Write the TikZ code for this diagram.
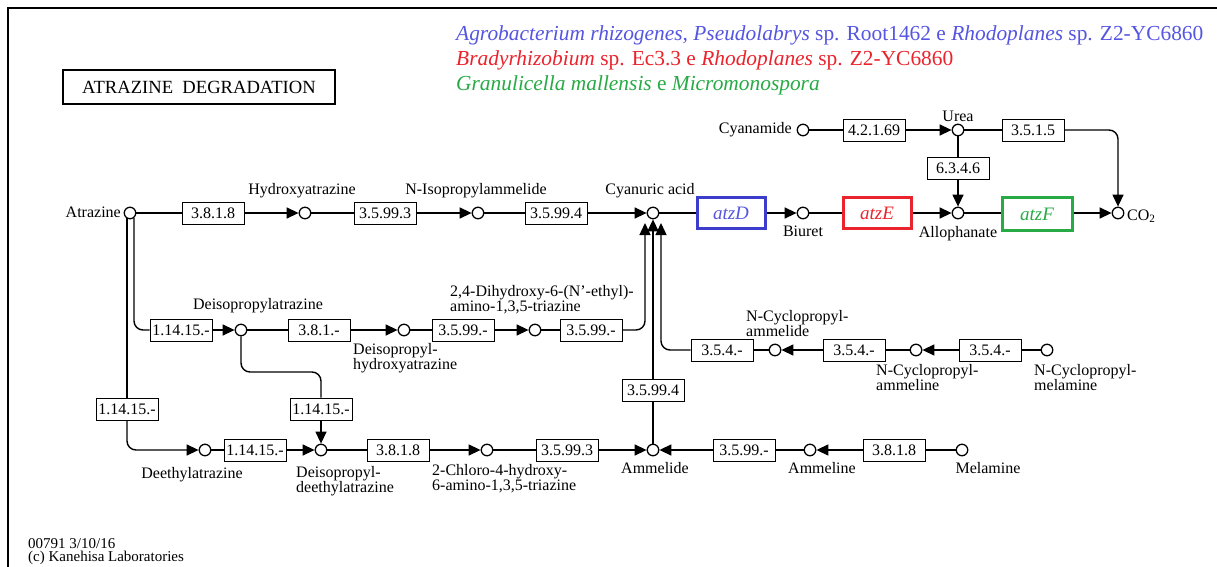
\documentclass[tikz,border=0pt]{standalone}
\usepackage{fontspec}
\setmainfont{Liberation Serif}
\usetikzlibrary{arrows.meta,calc}
\definecolor{legblue}{RGB}{85,85,225}
\definecolor{legred}{RGB}{235,35,45}
\definecolor{leggreen}{RGB}{40,170,70}
\definecolor{genblue}{RGB}{60,60,205}
\begin{document}
\begin{tikzpicture}[x=1pt,y=-1pt,
  cpd/.style={circle,draw,line width=1.3pt,minimum size=11.5pt,inner sep=0pt,fill=white},
  ec/.style={draw,line width=0.9pt,minimum width=62pt,minimum height=22pt,inner sep=1pt,fill=white,font=\fontsize{16}{16}\selectfont},
  gene/.style={draw,line width=3pt,minimum height=31pt,inner sep=1pt,fill=white,font=\fontsize{19}{19}\selectfont\itshape},
  lbl/.style={inner sep=0pt,font=\fontsize{16}{14}\selectfont},
  conn/.style={line width=1.4pt},
  arr/.style={line width=1.4pt,-{Triangle[length=12pt,width=11pt]}},
  leg/.style={inner sep=0pt,anchor=base west,font=\fontsize{21.4}{21.4}\selectfont}]
\useasboundingbox (0,0) rectangle (1217,567);
\fill[white] (0,0) rectangle (1217,567);
% frame
\draw[line width=1.5pt] (8,567) -- (8,8) -- (1217,8);
% title
\node[draw,line width=2pt,minimum width=272pt,minimum height=34pt,inner sep=0pt,font=\fontsize{18.6}{18.6}\selectfont] (title) at (199,87) {ATRAZINE\ \ DEGRADATION};
% legend
\node[leg,text=legblue] (leg1) at (456,41) {\textit{Agrobacterium rhizogenes, Pseudolabrys} sp. Root1462 e \textit{Rhodoplanes} sp. Z2-YC6860};
\node[leg,text=legred] (leg2) at (456,66) {\textit{Bradyrhizobium} sp. Ec3.3 e \textit{Rhodoplanes} sp. Z2-YC6860};
\node[leg,text=leggreen] (leg3) at (456,91) {\textit{Granulicella mallensis} e \textit{Micromonospora}};
% footer
\node[inner sep=0pt,anchor=north west,align=left,font=\fontsize{15}{13}\selectfont] (foot) at (28,538) {00791 3/10/16\\(c) Kanehisa Laboratories};

% ---------- row 1 ----------
\node[cpd] (atr) at (130,213) {};
\node[lbl,anchor=east] (latr) at (121,212) {Atrazine};
\node[ec] (ec1) at (213,213) {3.8.1.8};
\node[cpd] (hyd) at (305,213) {};
\node[lbl,anchor=south] (lhyd) at (302,198) {Hydroxyatrazine};
\node[ec] (ec2) at (385,213) {3.5.99.3};
\node[cpd] (nip) at (478,213) {};
\node[lbl,anchor=south] (lnip) at (476,198) {N-Isopropylammelide};
\node[ec] (ec3) at (556,213) {3.5.99.4};
\node[cpd] (cya) at (653,213) {};
\node[lbl,anchor=south] (lcya) at (650,198) {Cyanuric acid};
\node[gene,draw=genblue,text=legblue,minimum width=68pt] (atzD) at (731,213) {atzD};
\node[cpd] (biu) at (803,213) {};
\node[lbl,anchor=north] (lbiu) at (803,226) {Biuret};
\node[gene,draw=legred,text=legred,minimum width=68pt] (atzE) at (877,213) {atzE};
\node[cpd] (all) at (958,213) {};
\node[lbl,anchor=north] (lall) at (958,226) {Allophanate};
\node[gene,draw=leggreen,text=leggreen,minimum width=70pt,minimum height=33pt] (atzF) at (1037,214) {atzF};
\node[cpd] (co2) at (1118,213) {};
\node[lbl,anchor=west] (lco2) at (1127,216) {CO\textsubscript{2}};
\node[cpd] (cyn) at (803,130) {};
\node[lbl,anchor=east] (lcyn) at (792,130) {Cyanamide};
\node[ec] (ec4) at (874,130) {4.2.1.69};
\node[cpd] (urea) at (958,130) {};
\node[lbl,anchor=south] (lurea) at (958,122) {Urea};
\node[ec] (ec5) at (1033,130) {3.5.1.5};
\node[ec] (ec6) at (958,168) {6.3.4.6};

\draw[conn] (atr) -- (ec1);
\draw[arr] (ec1) -- (hyd);
\draw[conn] (hyd) -- (ec2);
\draw[arr] (ec2) -- (nip);
\draw[conn] (nip) -- (ec3);
\draw[arr] (ec3) -- (cya);
\draw[conn] (cya) -- (atzD);
\draw[arr] (atzD) -- (biu);
\draw[conn] (biu) -- (atzE);
\draw[arr] (atzE) -- (all);
\draw[conn] (all) -- (all -| atzF.west);
\draw[arr] (atzF.east |- co2) -- (co2);
\draw[conn] (cyn) -- (ec4);
\draw[arr] (ec4) -- (urea);
\draw[conn] (urea) -- (ec6);
\draw[arr] (ec6) -- (all);
\draw[conn] (urea) -- (ec5);
\draw[arr,rounded corners=9pt] (ec5) -- (co2 |- ec5) -- (co2);

% ---------- row 2 left ----------
\coordinate (atL) at (127,218);
\coordinate (atR) at (134,218);
\node[ec] (ec7) at (181,330) {1.14.15.-};
\node[cpd] (dia) at (241,330) {};
\node[lbl,anchor=south] (ldia) at (258,313) {Deisopropylatrazine};
\node[ec] (ec8) at (319,330) {3.8.1.-};
\node[cpd] (dih) at (404,330) {};
\node[lbl,anchor=north west,align=left] (ldih) at (353,343) {Deisopropyl-\\hydroxyatrazine};
\node[ec] (ec9) at (463,330) {3.5.99.-};
\node[cpd] (dhe) at (535,330) {};
\node[lbl,anchor=south west,align=left] (ldhe) at (450,314) {2,4-Dihydroxy-6-(N'-ethyl)-\\amino-1,3,5-triazine};
\node[ec] (ec10) at (591,330) {3.5.99.-};
\coordinate (ca1) at (645,223);
\coordinate (ca3) at (661,223);

\draw[conn,rounded corners=9pt] (atR) -- (atR |- ec7) -- (ec7);
\draw[arr] (ec7) -- (dia);
\draw[conn] (dia) -- (ec8);
\draw[arr] (ec8) -- (dih);
\draw[conn] (dih) -- (ec9);
\draw[arr] (ec9) -- (dhe);
\draw[conn] (dhe) -- (ec10);
\draw[arr,rounded corners=9pt] (ec10) -- (ca1 |- ec10) -- (ca1);

% ---------- row 2 right ----------
\node[ec] (ec19) at (722,350) {3.5.4.-};
\node[cpd] (cam) at (775,350) {};
\node[lbl,anchor=south west,align=left] (lcam) at (746,337) {N-Cyclopropyl-\\ammelide};
\node[ec] (ec20) at (854,350) {3.5.4.-};
\node[cpd] (cmn) at (916,350) {};
\node[lbl,anchor=north west,align=left] (lcmn) at (876,364) {N-Cyclopropyl-\\ammeline};
\node[ec] (ec21) at (990,350) {3.5.4.-};
\node[cpd] (cml) at (1047,350) {};
\node[lbl,anchor=north west,align=left] (lcml) at (1034,364) {N-Cyclopropyl-\\melamine};

\draw[conn] (cml) -- (ec21);
\draw[arr] (ec21) -- (cmn);
\draw[conn] (cmn) -- (ec20);
\draw[arr] (ec20) -- (cam);
\draw[conn] (cam) -- (ec19);
\draw[arr,rounded corners=9pt] (ec19) -- (ca3 |- ec19) -- (ca3);

% ---------- row 3 ----------
\node[ec] (ec11) at (127,409) {1.14.15.-};
\node[cpd] (det) at (205,450) {};
\node[lbl,anchor=north] (ldet) at (192,467) {Deethylatrazine};
\node[ec] (ec12) at (255,450) {1.14.15.-};
\node[cpd] (ddd) at (321,450) {};
\node[lbl,anchor=north west,align=left] (lddd) at (296,466) {Deisopropyl-\\deethylatrazine};
\node[ec] (ec13) at (321,409) {1.14.15.-};
\coordinate (k1) at (241,372);
\coordinate (k2) at (321,372);
\node[ec] (ec14) at (398,450) {3.8.1.8};
\node[cpd] (ccc) at (487,450) {};
\node[lbl,anchor=north west,align=left] (lccc) at (432,464) {2-Chloro-4-hydroxy-\\6-amino-1,3,5-triazine};
\node[ec] (ec15) at (567,450) {3.5.99.3};
\node[cpd] (amd) at (653,450) {};
\node[lbl,anchor=north] (lamd) at (655,462) {Ammelide};
\node[ec] (ec16) at (653,390) {3.5.99.4};
\node[ec] (ec17) at (744,450) {3.5.99.-};
\node[cpd] (aml) at (810,450) {};
\node[lbl,anchor=north] (laml) at (822,462) {Ammeline};
\node[ec] (ec18) at (894,450) {3.8.1.8};
\node[cpd] (mel) at (962,450) {};
\node[lbl,anchor=north] (lmel) at (988,462) {Melamine};

\draw[conn] (atL) -- (ec11);
\draw[arr,rounded corners=9pt] (ec11) -- (ec11 |- det) -- (det);
\draw[conn] (det) -- (ec12);
\draw[arr] (ec12) -- (ddd);
\draw[conn,rounded corners=9pt] (dia) -- (k1) -- (k2) -- (ec13);
\draw[arr] (ec13) -- (ddd);
\draw[conn] (ddd) -- (ec14);
\draw[arr] (ec14) -- (ccc);
\draw[conn] (ccc) -- (ec15);
\draw[arr] (ec15) -- (amd);
\draw[conn] (amd) -- (ec16);
\draw[arr] (ec16) -- (cya);
\draw[conn] (mel) -- (ec18);
\draw[arr] (ec18) -- (aml);
\draw[conn] (aml) -- (ec17);
\draw[arr] (ec17) -- (amd);
\end{tikzpicture}
\end{document}
